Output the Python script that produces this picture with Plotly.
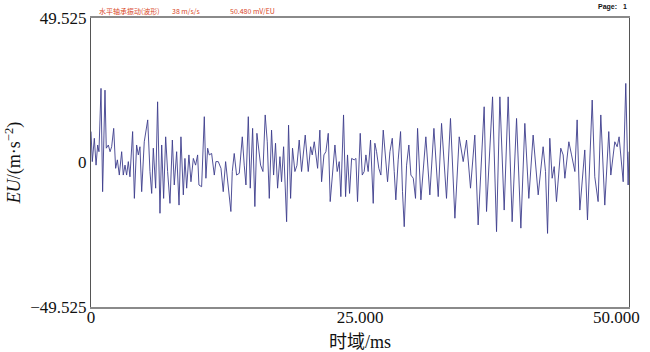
import plotly.graph_objects as go

# Turning points of the waveform (time in ms, amplitude in EU)
time_ms = [
    0.00, 0.12, 0.31, 0.47, 0.62, 0.74, 0.93, 1.08, 1.30, 1.42, 1.61, 1.77, 1.92,
    2.11, 2.29, 2.45, 2.63, 2.85, 3.00, 3.16, 3.31, 3.47, 3.62, 3.87, 4.03, 4.24,
    4.40, 4.55, 4.71, 4.95, 5.27, 5.48, 5.64, 5.79, 6.01, 6.19, 6.41, 6.57, 6.75,
    6.94, 7.12, 7.34, 7.56, 7.74, 7.96, 8.18, 8.36, 8.58, 8.73, 8.89, 9.10, 9.29,
    9.51, 9.72, 9.91, 10.03, 10.28, 10.53, 10.68, 10.84, 10.99, 11.21, 11.46,
    11.61, 11.83, 12.08, 12.29, 12.51, 13.00, 13.13, 13.31, 13.53, 13.78, 14.06,
    14.24, 14.40, 14.62, 14.80, 15.02, 15.23, 15.42, 15.61, 15.76, 15.98, 16.19,
    16.38, 16.57, 16.78, 16.97, 17.15, 17.34, 17.56, 17.71, 17.90, 18.02, 18.18,
    18.36, 18.55, 18.73, 18.95, 19.14, 19.35, 19.57, 19.76, 19.91, 20.19, 20.41,
    20.56, 20.75, 21.06, 21.27, 21.43, 21.65, 21.83, 22.05, 22.23, 22.45, 22.67,
    22.88, 23.07, 23.22, 23.47, 23.66, 23.84, 24.03, 24.22, 24.46, 24.62, 24.77,
    25.02, 25.21, 25.39, 25.55, 25.76, 25.98, 26.23, 26.38, 26.54, 26.75, 26.94,
    27.16, 27.38, 27.56, 27.78, 28.00, 28.18, 28.33, 28.55, 28.77, 28.95, 29.11,
    29.33, 29.54, 29.73, 29.95, 30.16, 30.35, 30.66, 31.12, 31.49, 31.87, 32.27,
    32.58, 33.04, 33.41, 33.82, 34.22, 34.59, 34.90, 35.27, 35.67, 35.98, 36.54,
    36.76, 37.32, 37.69, 38.00, 38.40, 38.77, 39.14, 39.55, 39.95, 40.32, 40.69,
    41.09, 41.56, 42.02, 42.24, 42.43, 42.64, 42.86, 43.05, 43.26, 43.66, 43.88,
    44.04, 44.41, 44.66, 44.97, 45.18, 45.43, 45.89, 46.14, 46.58, 46.82, 47.13,
    47.38, 47.75, 48.12, 48.31, 48.68, 48.90, 49.08, 49.46, 49.70, 49.92, 50.00,
]
amplitude = [
    10.6, 0.3, 8.3, -0.9, 6.0, 3.7, 25.4, -10.0, 24.8, 4.9, 6.0, 3.7, 5.4,
    11.7, -2.0, 0.9, -4.3, 3.7, -4.3, -0.9, -4.3, 0.3, -4.9, 10.6, -12.3, 6.0,
    2.6, 5.4, -10.0, 7.1, 14.6, -3.1, -10.6, 4.9, -8.8, 20.8, -17.4, 6.0, -12.3,
    8.8, -3.1, -14.0, 7.7, -7.7, 3.7, -14.6, 8.8, -11.1, 1.4, -8.8, 2.6, -6.6,
    1.4, -0.9, 2.6, -7.7, -8.3, 15.7, -5.4, 4.9, 2.6, 3.1, -4.3,
    0.3, 0.3, -2.0, -10.0, 0.3, -16.8, -3.1, 3.1, -4.3, -3.7, 8.8,
    -0.9, -7.7, 15.7, -8.8, 11.7, -15.1, 10.0, 3.7, -0.9, -3.1, 16.3,
    7.1, -12.3, 11.1, -4.3, 6.6, -8.8, 2.0, -6.6, 5.4, -4.3, -20.3,
    12.8, -12.3, 4.9, -3.1, -1.0, 7.7, -3.1, 3.7, 9.4, -3.1, 5.4,
    2.6, 7.1, -2.0, 11.1, -6.6, 2.6, 3.7, 10.0, -13.4, -2.0, 6.0,
    -3.1, 0.3, -11.7, 16.3, -11.7, 2.6, -10.6, 1.4, 0.9, 1.4, -13.4,
    10.0, -4.3, -3.1, 2.6, -3.1, 7.7, -14.0, 6.6, 3.7, -2.0, -4.3,
    11.1, 1.4, -6.6, 3.7, 8.3, -3.1, -12.8, 0.9, 10.6, -10.0, -22.0,
    -0.9, 6.0, -4.3, -5.4, -12.3, 11.7, -12.8, 8.8, -11.1, 11.7, -11.7,
    13.4, -12.3, 15.1, -19.1, 8.8, 0.3, 7.7, -8.8, 9.4, -21.4, 19.1,
    -16.8, 22.5, -23.7, 22.5, -16.3, 22.5, -20.3, 15.1, -22.5, 13.4, -12.3,
    9.4, -11.1, 5.4, -3.1, -24.3, 8.3, -5.4, -1.4, -13.4, 4.9, 2.6,
    -5.4, 7.1, 2.6, -3.1, 14.6, -16.3, 4.3, -19.7, 21.4, -4.9, -13.4,
    16.3, -14.6, 10.6, -4.3, 7.1, 5.4, 8.8, -6.6, 27.1, -7.7, 3.7,
]

y_tick_vals = [-49.525, 0, 49.525]
y_tick_text = ["\u221249.525", "0", "49.525"]
x_tick_vals = [0, 25, 50]
x_tick_text = ["0", "25.000", "50.000" + "\u00a0" * 6]

header_parts = ["水平轴承振动(波形)", "38 m/s/s", "50.480 mV/EU"]
header_x = [0.011, 0.147, 0.255]

fig = go.Figure()
fig.add_trace(go.Scatter(
    x=time_ms, y=amplitude, mode="lines",
    line=dict(color="#3d3d8c", width=0.9),
    showlegend=False, hoverinfo="skip",
))

serif = "Liberation Serif, Times New Roman, serif"

annotations = [
    dict(text=t, x=xp, y=1.0, xref="paper", yref="paper",
         xanchor="left", yanchor="bottom", yshift=0, showarrow=False,
         font=dict(family="Noto Sans CJK SC", size=7, color="#d9471f"))
    for t, xp in zip(header_parts, header_x)
]
annotations.append(
    dict(text="<b>Page:   1</b>", x=1.0, y=1.0, xref="paper", yref="paper",
         xanchor="right", yanchor="bottom", yshift=5, showarrow=False,
         font=dict(family="Liberation Sans, Arial", size=7, color="#111"))
)
# x-axis title
annotations.append(
    dict(text="<span style='font-family:Noto Sans CJK SC'>时域</span>/ms",
         x=0.5, y=0, xref="paper", yref="paper", xanchor="center",
         yanchor="middle", yshift=-33, showarrow=False,
         font=dict(family=serif, size=18, color="#111"))
)

fig.update_layout(
    width=650, height=352,
    margin=dict(l=91, r=21, t=18, b=45),
    paper_bgcolor="white", plot_bgcolor="white",
    xaxis=dict(
        range=[0, 50], tickvals=x_tick_vals, ticktext=x_tick_text,
        showgrid=False, zeroline=False, ticks="", automargin=False,
        ticklabeloverflow="allow", ticklabelstandoff=-6,
        showline=True, linecolor="#8a8a8a", linewidth=1.5, mirror=True,
        tickfont=dict(family=serif, size=17, color="#111"),
    ),
    yaxis=dict(
        range=[-49.525, 49.525], tickvals=y_tick_vals, ticktext=y_tick_text,
        showgrid=False, zeroline=False, ticks="", automargin=False,
        showline=True, linecolor="#555", linewidth=1.2, mirror=True,
        tickfont=dict(family=serif, size=17, color="#111"),
        title=dict(
            text="<i>EU</i>/(m·s<sup>−2</sup>)",
            font=dict(family=serif, size=18, color="#111"), standoff=4,
        ),
    ),
    annotations=annotations,
)

fig.write_html("out.html")
